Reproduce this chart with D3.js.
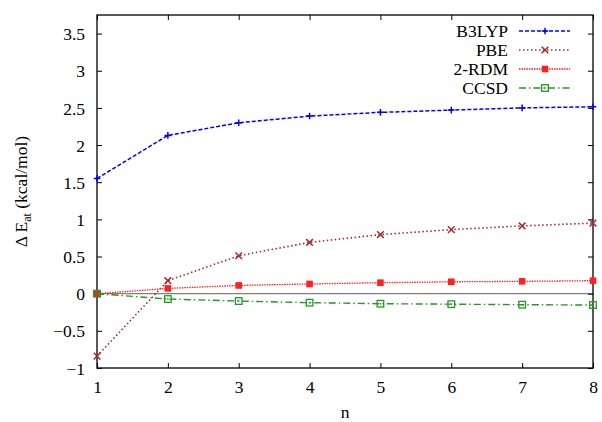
<!DOCTYPE html>
<html><head><meta charset="utf-8">
<script src="https://cdn.jsdelivr.net/npm/d3@7"></script>
<style>body{margin:0;background:#fff}svg{display:block}</style>
</head><body>
<script>
const nValues = [1,2,3,4,5,6,7,8];
const b3lyp = [1.55,2.13,2.30,2.39,2.44,2.47,2.50,2.515];
const pbe   = [-0.84,0.175,0.51,0.69,0.795,0.862,0.912,0.95];
const rdm2  = [0.0,0.071,0.111,0.131,0.148,0.160,0.166,0.175];
const ccsd  = [0.0,-0.072,-0.099,-0.121,-0.135,-0.141,-0.148,-0.153];
const yTicks = [-1,-0.5,0,0.5,1,1.5,2,2.5,3,3.5];
const seriesNames = ["B3LYP","PBE","2-RDM","CCSD"];

const FONT='"Liberation Serif"';
const W=602,H=422;
const m={l:97,r:9,t:15,b:54};
const svg=d3.select("body").append("svg").attr("width",W).attr("height",H);
const x=d3.scaleLinear().domain([1,8]).range([m.l,W-m.r]);
const y=d3.scaleLinear().domain([-1,3.75]).range([H-m.b,m.t]);

const series=[
 {name:seriesNames[0],vals:b3lyp,color:"#0000ff",dash:"4,2",w:1.5,mk:"plus"},
 {name:seriesNames[1],vals:pbe,color:"#a52a2a",dash:"1.5,2.5",w:1.6,mk:"x"},
 {name:seriesNames[2],vals:rdm2,color:"#ff2020",dash:"1.5,1",w:1.3,mk:"fsq"},
 {name:seriesNames[3],vals:ccsd,color:"#229922",dash:"7,3,1.5,3",w:1.4,mk:"osq"}
];

function txt(sel,size){ return sel.style("font-family",FONT).style("font-size",size).attr("fill","#000"); }

// zero axis
svg.append("line").attr("x1",x(1)).attr("x2",x(8)).attr("y1",y(0)).attr("y2",y(0))
  .attr("stroke","#808080").attr("stroke-width",1.3);

// axes
const fs="17.5px";
const axL=svg.append("g").attr("transform",`translate(${m.l},0)`)
 .call(d3.axisLeft(y).tickValues(yTicks).tickSize(-5).tickPadding(12).tickFormat(d3.format("")));
const axR=svg.append("g").attr("transform",`translate(${W-m.r},0)`)
 .call(d3.axisRight(y).tickValues(yTicks).tickSize(-5).tickFormat(""));
const axB=svg.append("g").attr("transform",`translate(0,${H-m.b})`)
 .call(d3.axisBottom(x).tickValues(nValues).tickSize(-5).tickPadding(13).tickFormat(d3.format("d")));
const axT=svg.append("g").attr("transform",`translate(0,${m.t})`)
 .call(d3.axisTop(x).tickValues(nValues).tickSize(-5).tickFormat(""));
[axL,axR,axB,axT].forEach(a=>{
  a.attr("font-family",null).attr("font-size",null);
  a.select(".domain").remove();
  a.selectAll("line").attr("stroke","#000");
  txt(a.selectAll("text"),fs);
});
axL.selectAll("text").attr("dy","0.35em");
svg.append("rect").attr("x",m.l).attr("y",m.t).attr("width",W-m.r-m.l).attr("height",H-m.b-m.t)
 .attr("fill","none").attr("stroke","#000").attr("stroke-width",1.3);

function marker(g,type,cx,cy,color){
 const s=3.3;
 if(type==="plus"){
  g.append("path").attr("d",`M${cx-s},${cy}H${cx+s}M${cx},${cy-s}V${cy+s}`).attr("stroke",color).attr("stroke-width",1.5);
 } else if(type==="x"){
  g.append("path").attr("d",`M${cx-s},${cy-s}L${cx+s},${cy+s}M${cx-s},${cy+s}L${cx+s},${cy-s}`).attr("stroke",color).attr("stroke-width",1.5);
 } else if(type==="fsq"){
  g.append("rect").attr("x",cx-s).attr("y",cy-s).attr("width",2*s).attr("height",2*s).attr("fill",color);
 } else {
  g.append("rect").attr("x",cx-s).attr("y",cy-s).attr("width",2*s).attr("height",2*s).attr("fill","none").attr("stroke",color).attr("stroke-width",1.3);
  g.append("rect").attr("x",cx-0.7).attr("y",cy-0.7).attr("width",1.4).attr("height",1.4).attr("fill",color);
 }
}

const line=d3.line().x((d,i)=>x(nValues[i])).y(d=>y(d));
series.forEach(s=>{
 const g=svg.append("g");
 g.append("path").attr("d",line(s.vals)).attr("fill","none").attr("stroke",s.color)
  .attr("stroke-width",s.w).attr("stroke-dasharray",s.dash);
 s.vals.forEach((v,i)=>marker(g,s.mk,x(nValues[i]),y(v),s.color));
});

// legend
series.forEach((s,i)=>{
 const ly=31+i*19;
 txt(svg.append("text").attr("x",508).attr("y",ly).attr("dy","0.35em").attr("text-anchor","end"),fs).text(s.name);
 svg.append("line").attr("x1",519).attr("x2",570).attr("y1",ly).attr("y2",ly)
  .attr("stroke",s.color).attr("stroke-width",s.w).attr("stroke-dasharray",s.dash);
 marker(svg.append("g"),s.mk,545,ly,s.color);
});

// axis labels
txt(svg.append("text").attr("x",(x(1)+x(8))/2).attr("y",418).attr("text-anchor","middle"),fs).text("n");
const yl=txt(svg.append("text").attr("transform",`translate(27,${(y(-1)+y(3.75))/2}) rotate(-90)`)
 .attr("text-anchor","middle"),fs);
yl.append("tspan").text("Δ E");
yl.append("tspan").attr("dy",4).style("font-size","12px").text("at");
yl.append("tspan").attr("dy",-4).text(" (kcal/mol)");
</script>
</body></html>
